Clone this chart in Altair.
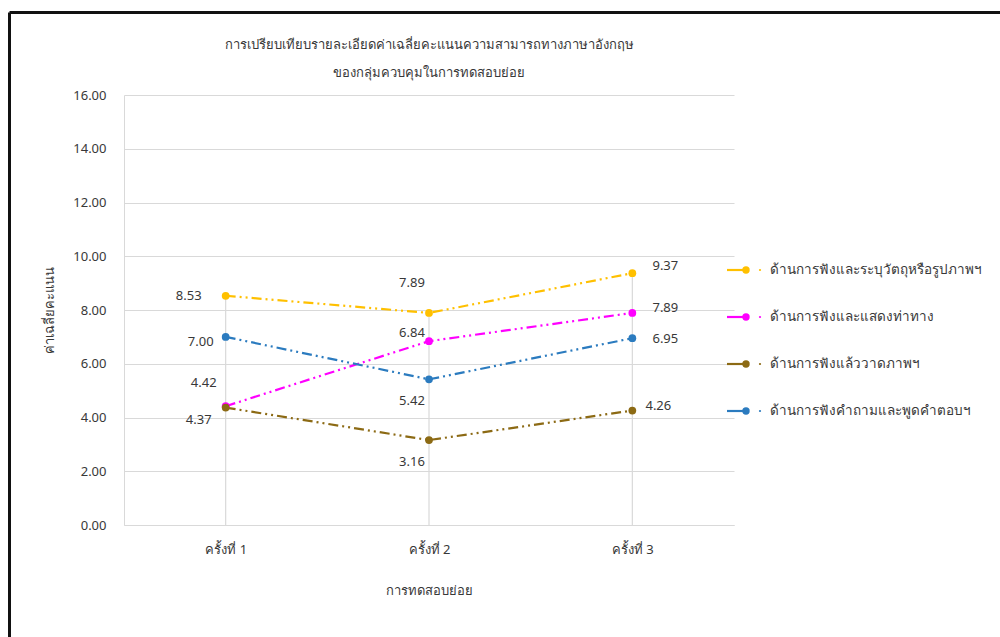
import json
import altair as alt
import pandas as pd

# Test rounds and the four listening-skill groups
categories = ["ครั้งที่ 1", "ครั้งที่ 2", "ครั้งที่ 3"]
series_names = [
    "ด้านการฟังและระบุวัตถุหรือรูปภาพฯ",
    "ด้านการฟังและแสดงท่าทาง",
    "ด้านการฟังแล้ววาดภาพฯ",
    "ด้านการฟังคำถามและพูดคำตอบฯ",
]
identify_scores = [8.53, 7.89, 9.37]
gesture_scores = [4.42, 6.84, 7.89]
drawing_scores = [4.37, 3.16, 4.26]
answer_scores = [7.00, 5.42, 6.95]
series_colors = ["#FFC000", "#FF00FF", "#8C6A14", "#2B7BBF"]
title_lines = [
    "การเปรียบเทียบรายละเอียดค่าเฉลี่ยคะแนนความสามารถทางภาษาอังกฤษ",
    "ของกลุ่มควบคุมในการทดสอบย่อย",
]

# Pixel nudges for each value label, relative to its point (dx, dy)
label_nudges = [
    [(-37, 0), (-17, -30), (33, -7)],
    [(-22, -23), (-17, -8), (33, -5)],
    [(-27, 12), (-17, 22), (26, -5)],
    [(-25, 5), (-17, 22), (33, 1)],
]

PLOT_W, PLOT_H = 610, 430
LEFT, TOP = 124, 95
X_DOMAIN = [0.5, 3.5]
Y_DOMAIN = [0, 16]
px_x = PLOT_W / (X_DOMAIN[1] - X_DOMAIN[0])
px_y = PLOT_H / (Y_DOMAIN[1] - Y_DOMAIN[0])

FONT = "Noto Sans"
TEXT = "#383838"
GRID = "#d9d9d9"
DASH = [10, 4, 2, 4, 2, 4]

rows = []
for s, (name, vals) in enumerate(zip(series_names,
                                     [identify_scores, gesture_scores, drawing_scores, answer_scores])):
    for i, v in enumerate(vals):
        dx, dy = label_nudges[s][i]
        rows.append({
            "series": name,
            "idx": i + 1,
            "value": v,
            "label": f"{v:.2f}",
            "label_x": i + 1 + dx / px_x,
            "label_y": v - dy / px_y,
        })
df = pd.DataFrame(rows)

color = alt.Color("series:N", scale=alt.Scale(domain=series_names, range=series_colors), legend=None)

label_expr = json.dumps(categories, ensure_ascii=False) + "[datum.value - 1]"

x_enc = alt.X(
    "idx:Q",
    scale=alt.Scale(domain=X_DOMAIN, nice=False, zero=False),
    axis=alt.Axis(
        values=[1, 2, 3], labelExpr=label_expr, grid=False, ticks=False,
        domainColor=GRID, labelFont=FONT, labelFontSize=13, labelColor=TEXT,
        labelPadding=18, title="การทดสอบย่อย", titleFont=FONT, titleFontSize=13,
        titleColor=TEXT, titleFontWeight="normal", titlePadding=28,
    ),
)
y_enc = alt.Y(
    "value:Q",
    scale=alt.Scale(domain=Y_DOMAIN, nice=False),
    axis=alt.Axis(
        values=list(range(0, 17, 2)), format=".2f", grid=True, gridColor=GRID,
        domainColor=GRID, ticks=False, labelFont=FONT, labelFontSize=13,
        labelColor=TEXT, labelPadding=18, title="ค่าเฉลี่ยคะแนน", titleFont=FONT,
        titleFontSize=13, titleColor=TEXT, titleFontWeight="normal", titlePadding=16,
    ),
)

base = alt.Chart(df)

# Drop lines from each round's highest value down to the axis
drops = base.transform_aggregate(top="max(value)", groupby=["idx"]).mark_rule(
    color=GRID, strokeWidth=1.2
).encode(x=alt.X("idx:Q"), y=alt.Y("top:Q"), y2=alt.Y2(datum=0))

lines = base.mark_line(strokeWidth=2.2, strokeDash=DASH).encode(
    x=x_enc, y=y_enc, color=color, detail="series:N", order="idx:Q"
)
points = base.mark_circle(size=60, opacity=1).encode(x="idx:Q", y="value:Q", color=color)
labels = base.mark_text(font=FONT, fontSize=13, color=TEXT).encode(
    x="label_x:Q", y="label_y:Q", text="label:N"
)

one = alt.Data(values=[{}])

# Two-line heading above the plot
heading = [
    alt.Chart(one).mark_text(text=line, font=FONT, fontSize=13, color=TEXT,
                             align="center", baseline="middle").encode(
        x=alt.value(PLOT_W / 2), y=alt.value(45 - TOP + k * 28))
    for k, line in enumerate(title_lines)
]

# Legend drawn beside the plot
legend_layers = []
LEG_X0, LEG_Y0, LEG_STEP = 603, 175, 47
for k, (name, col) in enumerate(zip(series_names, series_colors)):
    yk = LEG_Y0 + k * LEG_STEP
    legend_layers += [
        alt.Chart(one).mark_rule(color=col, strokeWidth=2.2).encode(
            x=alt.value(LEG_X0), x2=alt.value(LEG_X0 + 20), y=alt.value(yk)),
        alt.Chart(one).mark_circle(color=col, size=55, opacity=1).encode(
            x=alt.value(LEG_X0 + 19), y=alt.value(yk)),
        alt.Chart(one).mark_circle(color=col, size=5, opacity=1).encode(
            x=alt.value(LEG_X0 + 33), y=alt.value(yk)),
        alt.Chart(one).mark_text(text=name, font=FONT, fontSize=13.5, color=TEXT,
                                 align="left", baseline="middle").encode(
            x=alt.value(LEG_X0 + 43), y=alt.value(yk)),
    ]

# Frame around the figure
frame = [
    alt.Chart(one).mark_rule(color="#111111", strokeWidth=3).encode(
        x=alt.value(9.5 - LEFT), x2=alt.value(1000 - LEFT), y=alt.value(12.5 - TOP)),
    alt.Chart(one).mark_rule(color="#111111", strokeWidth=3).encode(
        x=alt.value(9.5 - LEFT), y=alt.value(12.5 - TOP), y2=alt.value(637 - TOP)),
]

chart = alt.layer(drops, lines, points, labels, *heading, *legend_layers, *frame).properties(
    width=PLOT_W,
    height=PLOT_H,
    autosize=alt.AutoSizeParams(type="none"),
    padding={"left": LEFT, "top": TOP, "right": 1000 - LEFT - PLOT_W, "bottom": 637 - TOP - PLOT_H},
    background="white",
).configure_view(stroke=None)

chart.save("out.html", embed_options={"renderer": "svg", "actions": False})
